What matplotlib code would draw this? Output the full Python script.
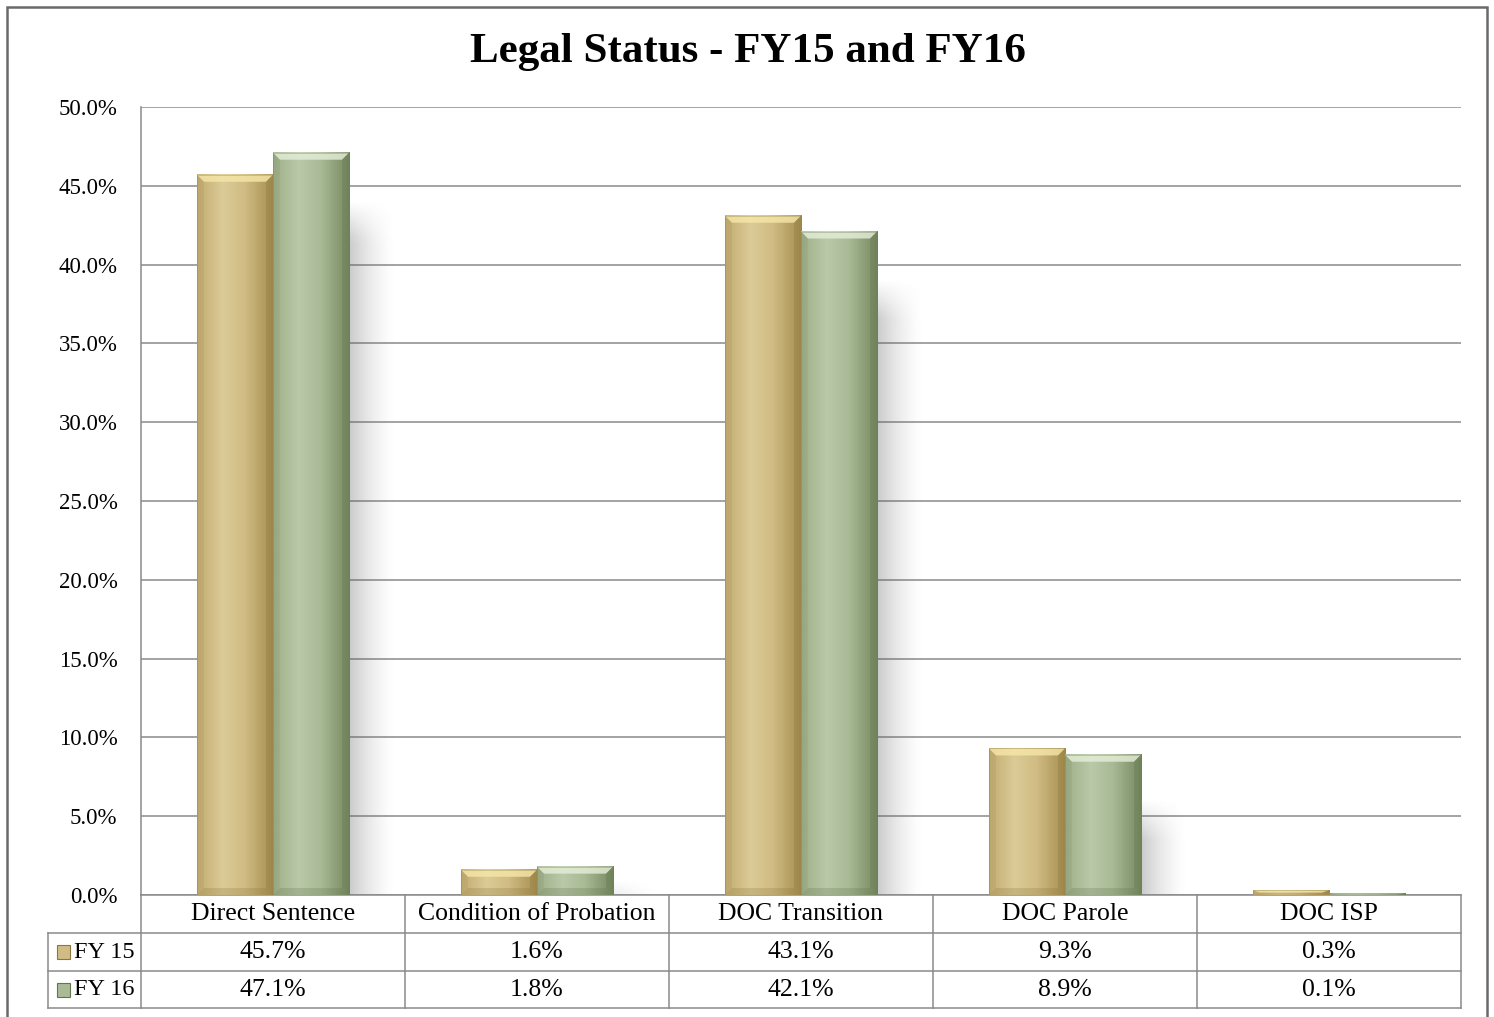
import numpy as np
import matplotlib
matplotlib.use("Agg")
import matplotlib.pyplot as plt
from matplotlib.colors import LinearSegmentedColormap
from matplotlib.patches import Rectangle, Polygon

# data
categories = ["Direct Sentence", "Condition of Probation", "DOC Transition", "DOC Parole", "DOC ISP"]
series_names = ["FY 15", "FY 16"]
fy15 = [45.7, 1.6, 43.1, 9.3, 0.3]
fy16 = [47.1, 1.8, 42.1, 8.9, 0.1]
yticks = [0, 5, 10, 15, 20, 25, 30, 35, 40, 45, 50]

# styling
plt.rcParams["font.family"] = ["Liberation Serif", "DejaVu Serif"]
gold = ["#c3ad72", "#dccb96", "#d0bc84", "#a68e4f"]
green = ["#9eaf88", "#bac9a8", "#a9ba96", "#76895f"]
gold_hi, gold_lo = "#f6e7a8", "#8c7640"
green_hi, green_lo = "#e6efda", "#63744f"
grid_col = "#8a8a8a"
bar_w = 0.288

fig = plt.figure(figsize=(14.94, 10.17), dpi=100)
ax = fig.add_axes([141/1494, 122/1017, 1320/1494, 788/1017])

# pixel -> data conversions
px_x = 5.0 / 1320
px_y = 50.0 / 788


def grad_image(cols, n=64):
    cmap = LinearSegmentedColormap.from_list("g", list(zip([0, 0.33, 0.62, 1.0], cols)))
    return cmap(np.linspace(0, 1, n))[None, :, :3]


def draw_bar(x0, h, cols, hi, lo, z):
    x1 = x0 + bar_w
    ax.imshow(grad_image(cols), extent=[x0, x1, 0, h], aspect="auto",
              interpolation="bilinear", zorder=z)
    bx = 7 * px_x
    by = min(7 * px_y, h / 2)
    # bevel faces
    ax.add_patch(Polygon([(x0, h), (x1, h), (x1 - bx, h - by), (x0 + bx, h - by)],
                         closed=True, facecolor=hi, edgecolor="none", alpha=0.8, zorder=z + 0.1))
    ax.add_patch(Polygon([(x0, 0), (x1, 0), (x1 - bx, by), (x0 + bx, by)],
                         closed=True, facecolor=lo, edgecolor="none", alpha=0.25, zorder=z + 0.1))
    ax.add_patch(Polygon([(x1, 0), (x1, h), (x1 - bx, h - by), (x1 - bx, by)],
                         closed=True, facecolor=lo, edgecolor="none", alpha=0.3, zorder=z + 0.1))
    ax.add_patch(Polygon([(x0, 0), (x0, h), (x0 + bx, h - by), (x0 + bx, by)],
                         closed=True, facecolor=lo, edgecolor="none", alpha=0.12, zorder=z + 0.1))
    ax.add_patch(Rectangle((x0, 0), bar_w, h, facecolor="none", edgecolor=lo,
                           linewidth=0.5, alpha=0.45, zorder=z + 0.2))


def draw_shadow(x1, h):
    top = h - 45 * px_y
    if top <= 0:
        top = h * 0.5
    w = 48 * px_x
    nx, ny = 60, 80
    xs = np.linspace(0, 1, nx)
    fade_x = (1 - xs) ** 1.6
    ys = np.linspace(0, top, ny)
    fade_y = np.clip((top - ys) / (40 * px_y), 0, 1)
    alpha = 0.32 * fade_y[:, None] * fade_x[None, :]
    img = np.zeros((ny, nx, 4))
    img[..., :3] = 0.35
    img[..., 3] = alpha
    ax.imshow(img, extent=[x1, x1 + w, 0, top], origin="lower", aspect="auto",
              interpolation="bilinear", zorder=2)


xpos = np.arange(len(categories))
for i in range(len(categories)):
    x_a = xpos[i] - bar_w
    x_b = xpos[i]
    draw_shadow(x_b + bar_w, fy16[i])
    draw_bar(x_a, fy15[i], gold, gold_hi, gold_lo, 3)
    draw_bar(x_b, fy16[i], green, green_hi, green_lo, 4)

ax.set_xlim(-0.5, 4.5)
ax.set_ylim(0, 50)

# axes styling
ax.set_yticks(yticks)
ax.set_yticklabels([f"{v:.1f}%" for v in yticks], fontsize=16.5)
ax.tick_params(axis="y", length=0, pad=17)
ax.set_xticks([])
ax.yaxis.grid(True, color=grid_col, linewidth=1.1)
ax.set_axisbelow(True)
for s in ["top", "right"]:
    ax.spines[s].set_visible(False)
for s in ["left", "bottom"]:
    ax.spines[s].set_color(grid_col)
    ax.spines[s].set_linewidth(1.1)

# data table below the axes
row_y = [0, -38/788, -76/788, -113/788]
left_x = -93/1320
tk = dict(transform=ax.transAxes, clip_on=False, color=grid_col, linewidth=1.1)
for k in range(6):
    ax.plot([k / 5, k / 5], [row_y[0], row_y[3]], **tk)
for yy in row_y[1:]:
    ax.plot([left_x, 1], [yy, yy], **tk)
ax.plot([left_x, left_x], [row_y[1], row_y[3]], **tk)

fs = 18.5
for k, name in enumerate(categories):
    ax.text((k + 0.5) / 5, (row_y[0] + row_y[1]) / 2, name, transform=ax.transAxes,
            ha="center", va="center", fontsize=fs)
    ax.text((k + 0.5) / 5, (row_y[1] + row_y[2]) / 2, f"{fy15[k]:.1f}%", transform=ax.transAxes,
            ha="center", va="center", fontsize=fs)
    ax.text((k + 0.5) / 5, (row_y[2] + row_y[3]) / 2, f"{fy16[k]:.1f}%", transform=ax.transAxes,
            ha="center", va="center", fontsize=fs)

for r, (name, cols, lo) in enumerate([(series_names[0], gold, gold_lo), (series_names[1], green, green_lo)]):
    yc = (row_y[r + 1] + row_y[r + 2]) / 2
    ax.add_patch(Rectangle((-84/1320, yc - 7/788), 13/1320, 14/788, transform=ax.transAxes,
                           facecolor=cols[2], edgecolor=lo, linewidth=0.8, clip_on=False))
    ax.text(-67/1320, yc, name, transform=ax.transAxes, ha="left", va="center", fontsize=17.5)

# title and outer frame (bottom edge runs off the canvas)
fig.text(748/1494, 1 - 52/1017, "Legal Status - FY15 and FY16", ha="center", va="center",
         fontsize=31, fontweight="bold")
fig.add_artist(Rectangle((7/1494, -20/1017), 1480/1494, 1030/1017, transform=fig.transFigure,
                         facecolor="none", edgecolor="#6a6a6a", linewidth=1.8))

fig.savefig("out.png", dpi=100)
